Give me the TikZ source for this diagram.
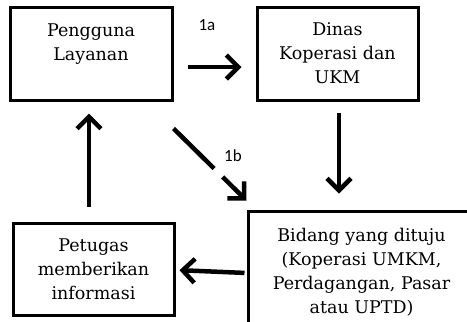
\documentclass[tikz,border=0pt]{standalone}
\usepackage{fontspec}
\newfontfamily\boxfont{DejaVu Serif}
\newfontfamily\labelfont{Carlito}
\usetikzlibrary{arrows.meta}

\tikzset{
    kotak/.style={draw, line width=3pt, align=center, inner sep=0pt,
        font=\boxfont\fontsize{17.5}{24}\selectfont},
    panah/.style={line width=4.5pt, -{Straight Barb[length=12pt, width=24pt, line width=4.5pt]}},
    label1/.style={font=\labelfont\fontsize{17}{19}\selectfont}
}

\begin{document}
\begin{tikzpicture}[x=1pt, y=-1pt]

    % frame
    \useasboundingbox (0,0) rectangle (467,322);
    \clip (0,0) rectangle (467,322);

    % boxes
    \node[kotak, minimum width=162pt, minimum height=93pt, text depth=22pt] (pengguna) at (91,53.5)
        {Pengguna\\Layanan};
    \node[kotak, minimum width=161pt, minimum height=93pt] (dinas) at (337.5,53.5)
        {Dinas\\Koperasi dan\\UKM};
    \node[kotak, minimum width=227pt, minimum height=119pt, text depth=0pt] (bidang) at (361.5,270.5)
        {Bidang yang dituju\\(Koperasi UMKM,\\Perdagangan, Pasar\\atau UPTD)};
    \node[kotak, minimum width=161pt, minimum height=92pt] (petugas) at (93.5,269)
        {Petugas\\memberikan\\informasi};

    % arrows
    \draw[panah, shorten <=14pt, shorten >=14pt] ([yshift=-13.5pt]pengguna.east) -- ([yshift=-13.5pt]dinas.west);
    \draw[panah, shorten <=11pt, shorten >=16pt] ([xshift=1.5pt]dinas.south) -- ([xshift=-22.5pt]bidang.north);
    \draw[panah, shorten <=2pt, shorten >=4pt] ([yshift=-2.5pt]bidang.west) -- ([yshift=-1pt]petugas.east);
    \draw[panah, shorten <=15pt, shorten >=12pt] ([xshift=-4.5pt]petugas.north) -- ([xshift=-2pt]pengguna.south);
    \draw[panah, dash pattern=on 57pt off 12pt on 80pt] ([yshift=-27pt]pengguna.south east) -- ([yshift=9pt]bidang.north west);

    % labels
    \node[label1] (l1a) at (207,25) {1a};
    \node[label1] (l1b) at (233,156) {1b};

\end{tikzpicture}
\end{document}
